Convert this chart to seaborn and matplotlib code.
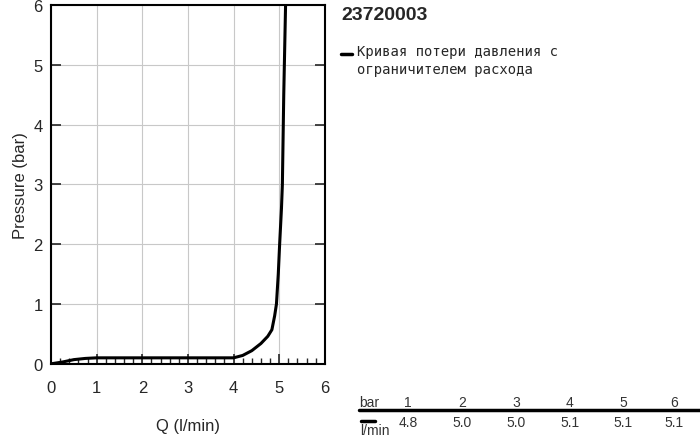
import matplotlib
matplotlib.use("Agg")
import matplotlib.pyplot as plt
import seaborn as sns
import pandas as pd
from matplotlib.ticker import MultipleLocator

flow = [0, 0.25, 0.5, 0.75, 1.0, 2.0, 3.0, 4.0, 4.2, 4.4, 4.6, 4.75, 4.84, 4.9, 4.94, 4.98, 5.01, 5.05, 5.07, 5.1, 5.14]
pressure = [0, 0.03, 0.07, 0.09, 0.1, 0.1, 0.1, 0.1, 0.14, 0.22, 0.34, 0.46, 0.57, 0.8, 1.0, 1.5, 2.0, 2.6, 3.0, 4.5, 6.0]
table_bar = ["1", "2", "3", "4", "5", "6"]
table_lmin = ["4.8", "5.0", "5.0", "5.1", "5.1", "5.1"]
title = "23720003"
legend_label = "Кривая потери давления с\nограничителем расхода"

sns.set_style("white")
plt.rcParams["font.family"] = ["Liberation Sans", "DejaVu Sans"]
fig = plt.figure(figsize=(7, 4.39), dpi=100)
ax = fig.add_axes([0.073, 0.169, 0.391, 0.817])
df = pd.DataFrame({"Q": flow, "P": pressure})
sns.lineplot(data=df, x="Q", y="P", ax=ax, color="black", lw=2.2, sort=False)
ax.set_xlim(0, 6)
ax.set_ylim(0, 6)
ax.xaxis.set_major_locator(MultipleLocator(1))
ax.yaxis.set_major_locator(MultipleLocator(1))
ax.xaxis.set_minor_locator(MultipleLocator(0.2))
ax.grid(True, which="major", color="#c8c8c8", lw=0.8)
ax.tick_params(which="major", direction="in", length=7, width=1.2, top=False, right=True, left=True, bottom=True, labelsize=12, pad=12)
ax.tick_params(axis="x", which="minor", direction="in", length=4, width=1, bottom=True)
ax.tick_params(axis="y", which="major", pad=6)
for s in ax.spines.values():
    s.set_linewidth(1.5)
    s.set_color("black")
ax.set_xlabel("Q (l/min)", fontsize=12, labelpad=16)
ax.set_ylabel("Pressure (bar)", fontsize=12)

fig.text(0.487, 0.965, title, fontsize=14, fontweight="bold", va="center", ha="left")
fig.lines.append(plt.Line2D([0.487, 0.503], [0.875, 0.875], color="black", lw=2.5, transform=fig.transFigure))
fig.text(0.51, 0.897, legend_label, fontsize=10, family="DejaVu Sans Mono", va="top", ha="left", linespacing=1.35)

# table
xs = [0.583, 0.66, 0.737, 0.814, 0.89, 0.963]
fig.text(0.513, 0.082, "bar", fontsize=10, color="#333333", va="center")
for x, b, q in zip(xs, table_bar, table_lmin):
    fig.text(x, 0.082, b, fontsize=10, color="#333333", va="center", ha="center")
    fig.text(x, 0.036, q, fontsize=10, color="#333333", va="center", ha="center")
fig.lines.append(plt.Line2D([0.513, 1.0], [0.064, 0.064], color="black", lw=2.5, transform=fig.transFigure))
fig.lines.append(plt.Line2D([0.516, 0.536], [0.038, 0.038], color="black", lw=2.5, transform=fig.transFigure))
fig.text(0.515, 0.003, "l/min", fontsize=10, color="#333333", va="bottom")
fig.savefig("out.png", dpi=100)
